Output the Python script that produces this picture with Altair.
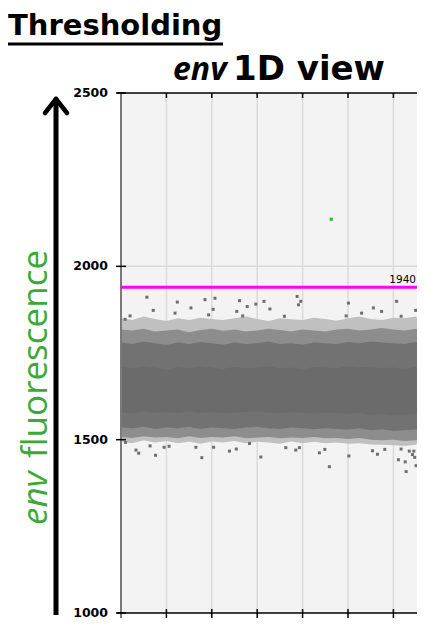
import altair as alt
import pandas as pd

# ---------------- data ----------------
X_GRID = [1, 2, 3, 4, 5, 6]
Y_TICKS = [1000, 1500, 2000, 2500]
Y_LABELS = ["1000", "1500", "2000", "2500"]
Y_GRID = [1500, 2000]
THRESHOLD = [1940]
THRESHOLD_LABEL = ["1940"]

# density bands of the event cloud
BAND_X = [0, 0.25, 0.5, 0.75, 1, 1.25, 1.5, 1.75, 2, 2.25, 2.5, 2.75, 3, 3.25,
          3.5, 3.75, 4, 4.25, 4.5, 4.75, 5, 5.25, 5.5, 5.75, 6, 6.25, 6.5, 6.52]
SPARSE_HI = [1850, 1845, 1855, 1848, 1842, 1850, 1845, 1852, 1848, 1845, 1850, 1855, 1848, 1842,
             1850, 1847, 1845, 1852, 1848, 1843, 1850, 1855, 1848, 1845, 1852, 1850, 1855, 1850]
SPARSE_LO = [1495, 1490, 1498, 1492, 1496, 1490, 1494, 1488, 1495, 1492, 1496, 1490, 1494, 1492,
             1488, 1495, 1490, 1494, 1490, 1492, 1488, 1490, 1486, 1485, 1484, 1482, 1485, 1488]
MID_HI = [1818, 1815, 1820, 1812, 1815, 1818, 1810, 1816, 1820, 1814, 1818, 1812, 1815, 1820,
          1816, 1812, 1818, 1815, 1812, 1818, 1820, 1815, 1818, 1822, 1818, 1815, 1820, 1818]
MID_LO = [1508, 1505, 1510, 1506, 1508, 1504, 1510, 1505, 1508, 1506, 1510, 1504, 1506, 1508,
          1504, 1506, 1505, 1508, 1504, 1505, 1502, 1505, 1500, 1498, 1500, 1496, 1498, 1500]
DENSE_HI = [1780, 1776, 1783, 1778, 1773, 1780, 1776, 1782, 1778, 1774, 1780, 1776, 1778, 1783,
            1776, 1778, 1774, 1780, 1778, 1776, 1782, 1778, 1783, 1780, 1778, 1776, 1782, 1780]
DENSE_LO = [1535, 1533, 1537, 1531, 1535, 1533, 1537, 1531, 1535, 1533, 1531, 1535, 1537, 1533,
            1531, 1535, 1533, 1530, 1533, 1531, 1529, 1533, 1527, 1530, 1525, 1527, 1529, 1531]
CORE_HI = [1710, 1705, 1712, 1708, 1700, 1710, 1706, 1712, 1708, 1704, 1710, 1706, 1708, 1712,
           1705, 1708, 1702, 1710, 1708, 1705, 1712, 1708, 1710, 1706, 1708, 1704, 1710, 1708]
CORE_LO = [1580, 1575, 1582, 1578, 1580, 1576, 1582, 1578, 1580, 1576, 1578, 1580, 1582, 1578,
           1576, 1580, 1578, 1575, 1578, 1576, 1574, 1578, 1572, 1575, 1570, 1572, 1574, 1576]

# individual outlying events
OUT_X = [0.57, 1.24, 0.71, 1.54, 1.85, 2.07, 1.19, 1.93, 2.03, 2.61, 2.78, 2.97, 3.15, 2.55,
         2.68, 0.20, 0.09, 3.88, 3.91, 3.96, 5.01, 4.96, 5.30, 5.56, 5.74, 6.07, 6.17, 6.49,
         3.28, 3.60,
         0.10, 0.33, 0.39, 0.64, 0.76, 0.95, 1.06, 1.65, 1.78, 2.04, 2.39, 2.54, 2.83, 3.08,
         3.63, 3.85, 3.93, 4.37, 4.49, 4.59, 5.02, 5.54, 5.65, 5.81, 6.11, 6.17, 6.26, 6.28,
         6.35, 6.50, 6.47, 6.42, 6.45]
OUT_Y = [1911, 1897, 1873, 1880, 1904, 1908, 1865, 1860, 1876, 1901, 1884, 1891, 1899, 1870,
         1857, 1857, 1847, 1913, 1889, 1899, 1894, 1857, 1865, 1880, 1870, 1899, 1856, 1873,
         1877, 1856,
         1492, 1470, 1461, 1482, 1455, 1478, 1481, 1478, 1448, 1478, 1467, 1473, 1489, 1450,
         1477, 1470, 1477, 1462, 1472, 1422, 1453, 1468, 1458, 1472, 1442, 1473, 1436, 1408,
         1467, 1425, 1449, 1457, 1467]

POS_X = [4.63]
POS_Y = [2136]

# ---------------- frames ----------------
band = pd.DataFrame({"x": BAND_X, "s_hi": SPARSE_HI, "s_lo": SPARSE_LO, "m_hi": MID_HI,
                     "m_lo": MID_LO, "d_hi": DENSE_HI, "d_lo": DENSE_LO,
                     "c_hi": CORE_HI, "c_lo": CORE_LO})
outliers = pd.DataFrame({"x": OUT_X, "y": OUT_Y})
positive = pd.DataFrame({"x": POS_X, "y": POS_Y})
xgrid = pd.DataFrame({"x": X_GRID})
yticks = pd.DataFrame({"y": Y_TICKS, "label": Y_LABELS})
ygrid = pd.DataFrame({"y": Y_GRID})
thr = pd.DataFrame({"y": THRESHOLD, "label": THRESHOLD_LABEL})
one = pd.DataFrame({"a": [0]})

W, H = 296, 520
xs = alt.Scale(domain=[0, 6.52], nice=False, zero=False)
ys = alt.Scale(domain=[1000, 2500], nice=False, zero=False)

POINT = "#6e6e6e"
GRID = "#dadada"

X = lambda f: alt.X(f, scale=xs, axis=None)
Y = lambda f: alt.Y(f, scale=ys, axis=None)

# gridlines
vgrid = alt.Chart(xgrid).mark_rule(color=GRID, strokeWidth=1.5).encode(
    x=X("x:Q"), y=alt.value(0), y2=alt.value(H))
hgrid = alt.Chart(ygrid).mark_rule(color=GRID, strokeWidth=1.5).encode(
    y=Y("y:Q"), x=alt.value(0), x2=alt.value(W))


def band_layer(lo, hi, color):
    return alt.Chart(band).mark_area(color=color, interpolate="linear").encode(
        x=X("x:Q"), y=Y(f"{lo}:Q"), y2=f"{hi}:Q")


sparse = band_layer("s_lo", "s_hi", "#c0c0c0")
mid = band_layer("m_lo", "m_hi", "#8d8d8d")
dense = band_layer("d_lo", "d_hi", "#727272")
core = band_layer("c_lo", "c_hi", "#6b6b6b")

pts = alt.Chart(outliers).mark_square(size=9, color=POINT, opacity=1, clip=True).encode(
    x=X("x:Q"), y=Y("y:Q"))
pos = alt.Chart(positive).mark_square(size=10, color="#1fc21f", opacity=1).encode(
    x=X("x:Q"), y=Y("y:Q"))

# frame
left_border = alt.Chart(one).mark_rule(color="#7a7a7a", strokeWidth=2).encode(
    x=alt.value(0), y=alt.value(0), y2=alt.value(H + 5))
top_border = alt.Chart(one).mark_rule(color="black", strokeWidth=1.5).encode(
    x=alt.value(-4), x2=alt.value(W), y=alt.value(0))
bottom_border = alt.Chart(one).mark_rule(color="black", strokeWidth=1.5).encode(
    x=alt.value(-4), x2=alt.value(W), y=alt.value(H))
ytick_marks = alt.Chart(yticks).mark_rule(color="black", strokeWidth=1.5).encode(
    y=Y("y:Q"), x=alt.value(-5), x2=alt.value(5))
ylabels = alt.Chart(yticks).mark_text(align="right", baseline="middle", font="DejaVu Sans",
                                      fontWeight="bold", fontSize=12.5, color="black").encode(
    y=Y("y:Q"), x=alt.value(-13), text="label:N")
xtick_bottom = alt.Chart(xgrid).mark_rule(color="black", strokeWidth=1.5).encode(
    x=X("x:Q"), y=alt.value(H - 4), y2=alt.value(H + 5))
xtick_top = alt.Chart(xgrid).mark_rule(color="black", strokeWidth=1.5).encode(
    x=X("x:Q"), y=alt.value(0), y2=alt.value(5))

# threshold
thr_line = alt.Chart(thr).mark_rule(color="#ff00ff", strokeWidth=3).encode(y=Y("y:Q"))
thr_text = alt.Chart(thr).mark_text(align="right", baseline="alphabetic", dy=-4,
                                    font="DejaVu Sans", fontSize=10.5, color="black").encode(
    y=Y("y:Q"), x=alt.value(W - 1), text="label:N")

# titles
t_main = alt.Chart(one).mark_text(text="Thresholding", align="left", baseline="alphabetic",
                                  font="DejaVu Sans", fontWeight="bold", fontSize=29,
                                  color="black").encode(x=alt.value(-113), y=alt.value(-58))
t_under = alt.Chart(one).mark_rule(color="black", strokeWidth=3).encode(
    x=alt.value(-113), x2=alt.value(102), y=alt.value(-49))
t_env = alt.Chart(one).mark_text(text="env", align="left", baseline="alphabetic",
                                 font="Open Sans", fontWeight="bold", fontStyle="italic",
                                 fontSize=32, color="black").encode(
    x=alt.value(52), y=alt.value(-13))
t_view = alt.Chart(one).mark_text(text="1D view", align="left", baseline="alphabetic",
                                  font="DejaVu Sans", fontWeight="bold", fontSize=34,
                                  color="black").encode(x=alt.value(112), y=alt.value(-13))

# big arrow and side label
shaft = alt.Chart(one).mark_rule(color="black", strokeWidth=5).encode(
    x=alt.value(-65), y=alt.value(7), y2=alt.value(522))
arm_l = alt.Chart(one).mark_rule(color="black", strokeWidth=4.5, strokeCap="round").encode(
    x=alt.value(-65), x2=alt.value(-76), y=alt.value(6), y2=alt.value(20))
arm_r = alt.Chart(one).mark_rule(color="black", strokeWidth=4.5, strokeCap="round").encode(
    x=alt.value(-65), x2=alt.value(-54), y=alt.value(6), y2=alt.value(20))
GREEN = "#3aaa35"
side_env = alt.Chart(one).mark_text(text="env", angle=270, align="left", baseline="alphabetic",
                                    font="Open Sans", fontStyle="italic", fontSize=35,
                                    color=GREEN).encode(x=alt.value(-74), y=alt.value(432))
side_fl = alt.Chart(one).mark_text(text="fluorescence", angle=270, align="left",
                                   baseline="alphabetic", font="Open Sans", fontSize=35,
                                   color=GREEN).encode(x=alt.value(-74), y=alt.value(365))

chart = alt.layer(
    vgrid, hgrid, sparse, mid, dense, core, pts, pos,
    left_border, top_border, bottom_border, ytick_marks, ylabels, xtick_bottom, xtick_top,
    thr_line, thr_text,
    t_main, t_under, t_env, t_view,
    shaft, arm_l, arm_r, side_env, side_fl,
).properties(
    width=W, height=H,
    padding={"left": 113, "top": 85, "right": 0, "bottom": 6},
    autosize=alt.AutoSizeParams(type="none"),
    background="white",
).configure_view(fill="#f3f3f3", stroke=None)

chart.save("out.html", embed_options={"renderer": "svg", "actions": False})
